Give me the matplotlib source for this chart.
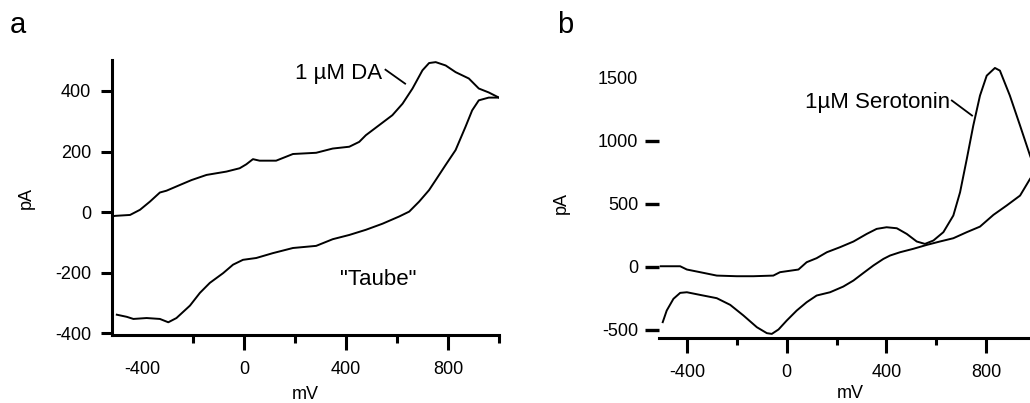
import matplotlib
matplotlib.use('Agg')
import matplotlib.pyplot as plt

plt.rcParams['font.family'] = ['Liberation Sans', 'DejaVu Sans']
plt.rcParams['axes.unicode_minus'] = False

# (a) dopamin, "Taube" - Hinlauf (oben) und Rücklauf (unten)
da_hin_mv = [-520, -505, -447, -408, -369, -330, -304, -251, -206, -147, -69, -17, 9, 35, 61,
             126, 192, 283, 348, 413, 452, 478, 530, 582, 622, 661, 700, 726, 752, 791,
             830, 882, 921, 960, 1000]
da_hin_pa = [-14, -12, -9, 8, 35, 65, 71, 90, 106, 123, 134, 145, 158, 175, 170,
             170, 192, 196, 210, 216, 232, 254, 287, 320, 358, 408, 468, 492, 495, 484,
             462, 441, 408, 395, 378]
da_rueck_mv = [1000, 960, 921, 895, 869, 830, 791, 752, 726, 687, 648, 609, 543, 478, 413,
               348, 283, 192, 113, 48, -4, -43, -82, -134, -173, -212, -265, -297, -330,
               -382, -434, -460, -499]
da_rueck_pa = [378, 378, 369, 336, 282, 205, 156, 106, 73, 35, 2, -14, -38, -58, -75,
               -89, -111, -118, -135, -151, -157, -173, -201, -233, -266, -308, -349, -363, -352,
               -349, -352, -345, -338]

# (b) serotonin
ser_hin_mv = [-506, -428, -401, -348, -281, -201, -134, -54, -27, 47, 80, 120, 161, 214, 268,
              321, 361, 401, 442, 482, 522, 555, 589, 629, 669, 696, 723, 749, 776, 803,
              836, 856, 896, 937, 977, 1000]
ser_hin_pa = [5, 5, -21, -42, -69, -74, -74, -69, -42, -21, 37, 69, 116, 156, 201,
              261, 301, 314, 306, 261, 201, 182, 209, 275, 407, 591, 855, 1119, 1357, 1515,
              1576, 1555, 1357, 1119, 882, 760]
ser_rueck_mv = [1000, 977, 937, 883, 830, 776, 723, 669, 615, 562, 508, 455, 415, 388, 348,
                308, 268, 227, 174, 120, 80, 40, 0, -33, -60, -80, -120, -174, -227, -281,
                -348, -401, -428, -455, -482, -498]
ser_rueck_pa = [760, 697, 565, 486, 412, 319, 275, 227, 201, 174, 143, 116, 90, 63, 11,
                -48, -108, -156, -201, -227, -280, -346, -425, -496, -531, -525, -478, -385, -301, -248,
                -222, -201, -206, -253, -346, -438]

x_major = [-400, 0, 400, 800]
x_minor = [-200, 200, 600, 1000]

fig = plt.figure(figsize=(10.3, 4.03), dpi=100)

# ---- Panel a
ax1 = fig.add_axes([0.1087, 0.1687, 0.3757, 0.6824])
ax1.plot(da_hin_mv, da_hin_pa, color='black', lw=1.4)
ax1.plot(da_rueck_mv, da_rueck_pa, color='black', lw=1.4)
ax1.set_xlim(-518, 1000)
ax1.set_ylim(-405, 502)
for s in ['top', 'right']:
    ax1.spines[s].set_visible(False)
for s in ['left', 'bottom']:
    ax1.spines[s].set_linewidth(2.2)
ax1.set_xticks(x_major)
ax1.set_xticks(x_minor, minor=True)
ax1.set_yticks([-400, -200, 0, 200, 400])
ax1.tick_params(axis='x', which='major', length=10.8, width=2.2, labelsize=13, pad=8)
ax1.tick_params(axis='x', which='minor', length=5.8, width=2.2)
ax1.tick_params(axis='y', length=8, width=2.2, labelsize=13, pad=7)
ax1.xaxis.get_major_ticks()[0].tick1line.set_visible(False)
ax1.set_xlabel('mV', fontsize=13, va='center')
ax1.xaxis.set_label_coords(0.5, -0.218)
ax1.set_ylabel('pA', fontsize=13, va='center')
ax1.yaxis.set_label_coords(-0.222, 0.5)
ax1.text(543, 458, '1 µM DA', fontsize=16, ha='right', va='center')
ax1.plot([555, 632], [470, 424], color='black', lw=1.3)
ax1.text(525, -223, '"Taube"', fontsize=16, ha='center', va='center')

# ---- Panel b
ax2 = fig.add_axes([0.6398, 0.1605, 0.3658, 0.6906])
ax2.plot(ser_hin_mv, ser_hin_pa, color='black', lw=1.4)
ax2.plot(ser_rueck_mv, ser_rueck_pa, color='black', lw=1.4)
ax2.set_xlim(-513, 1000)
ax2.set_ylim(-566, 1639)
for s in ['top', 'right', 'left']:
    ax2.spines[s].set_visible(False)
ax2.spines['bottom'].set_linewidth(2.2)
ax2.set_xticks(x_major)
ax2.set_xticks(x_minor, minor=True)
ax2.set_yticks([-500, 0, 500, 1000, 1500])
ax2.tick_params(axis='x', which='major', length=10.8, width=2.2, labelsize=13, pad=8)
ax2.tick_params(axis='x', which='minor', length=5, width=2.2)
ax2.tick_params(axis='y', length=10, width=2.4, labelsize=13, pad=5)
ax2.yaxis.get_major_ticks()[-1].tick1line.set_visible(False)
ax2.set_xlabel('mV', fontsize=13, va='center')
ax2.xaxis.set_label_coords(0.507, -0.2)
ax2.set_ylabel('pA', fontsize=13, va='center')
ax2.yaxis.set_label_coords(-0.26, 0.486)
ax2.text(656, 1302, '1µM Serotonin', fontsize=16, ha='right', va='center')
ax2.plot([663, 744], [1318, 1199], color='black', lw=1.3)

fig.text(10 / 1030, (403 - 33) / 403, 'a', fontsize=21, ha='left', va='baseline')
fig.text(557 / 1030, (403 - 33) / 403, 'b', fontsize=21, ha='left', va='baseline')

fig.savefig('out.png', dpi=100)
